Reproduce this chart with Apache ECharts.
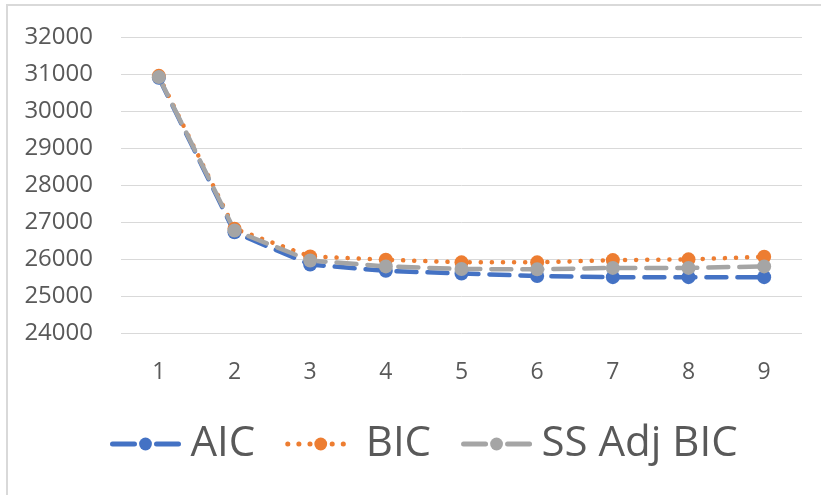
<!DOCTYPE html>
<html>
<head>
<meta charset="utf-8">
<script src="https://cdn.jsdelivr.net/npm/echarts@6/dist/echarts.min.js"></script>
<style>
  html, body { margin: 0; padding: 0; background: #fff; }
  #main { width: 821px; height: 495px; }
</style>
</head>
<body>
<div id="main"></div>
<script>
// number of clusters
var categories = ["1", "2", "3", "4", "5", "6", "7", "8", "9"];

// fit criteria per model
var aic = [30900, 26720, 25850, 25680, 25610, 25540, 25510, 25510, 25510];
var bic = [30950, 26820, 26070, 25980, 25910, 25910, 25970, 25990, 26060];
var ssAdjBic = [30920, 26770, 25960, 25800, 25730, 25720, 25760, 25760, 25800];

var chart = echarts.init(document.getElementById("main"));

var font = "'Open Sans', sans-serif";
var dash = [20, 11];
var dots = [0.1, 11];

function lineSeries(name, data, color, pattern, width) {
  return {
    name: name,
    type: "line",
    data: data,
    symbol: "circle",
    symbolSize: 14,
    showSymbol: true,
    itemStyle: { color: color },
    lineStyle: { color: color, width: width, type: pattern, cap: "round" },
    animation: false
  };
}

var option = {
  backgroundColor: "#ffffff",
  // chart frame
  graphic: [{
    type: "rect",
    shape: { x: 7, y: 5, width: 900, height: 600 },
    style: { fill: "none", stroke: "#d9d9d9", lineWidth: 2 },
    silent: true
  }],
  grid: { left: 121, right: 19, top: 37, bottom: 162 },
  xAxis: {
    type: "category",
    data: categories,
    boundaryGap: true,
    axisLine: { show: false },
    axisTick: { show: false },
    axisLabel: { color: "#595959", fontFamily: font, fontSize: 23, margin: 28 }
  },
  yAxis: {
    type: "value",
    min: 24000,
    max: 32000,
    interval: 1000,
    axisLine: { show: false },
    axisTick: { show: false },
    axisLabel: {
      color: "#595959", fontFamily: font, fontSize: 24, margin: 28,
      formatter: function (v) { return String(v); }
    },
    splitLine: { lineStyle: { color: "#d9d9d9", width: 1 } }
  },
  legend: {
    left: 110,
    top: 423,
    padding: 0,
    itemGap: 30,
    itemWidth: 66,
    itemHeight: 16,
    textStyle: { color: "#595959", fontFamily: font, fontSize: 42, padding: [0, 0, 0, 7] },
    data: [
      { name: "AIC", lineStyle: { width: 5, type: [22, 22], cap: "round" } },
      { name: "BIC", lineStyle: { width: 5, type: dots, cap: "round" } },
      { name: "SS Adj BIC", lineStyle: { width: 5, type: [22, 22], cap: "round" } }
    ]
  },
  series: [
    lineSeries("AIC", aic, "#4472C4", dash, 4.5),
    lineSeries("BIC", bic, "#ED7D31", dots, 4.5),
    lineSeries("SS Adj BIC", ssAdjBic, "#A5A5A5", dash, 4.5)
  ]
};

chart.setOption(option);
</script>
</body>
</html>
